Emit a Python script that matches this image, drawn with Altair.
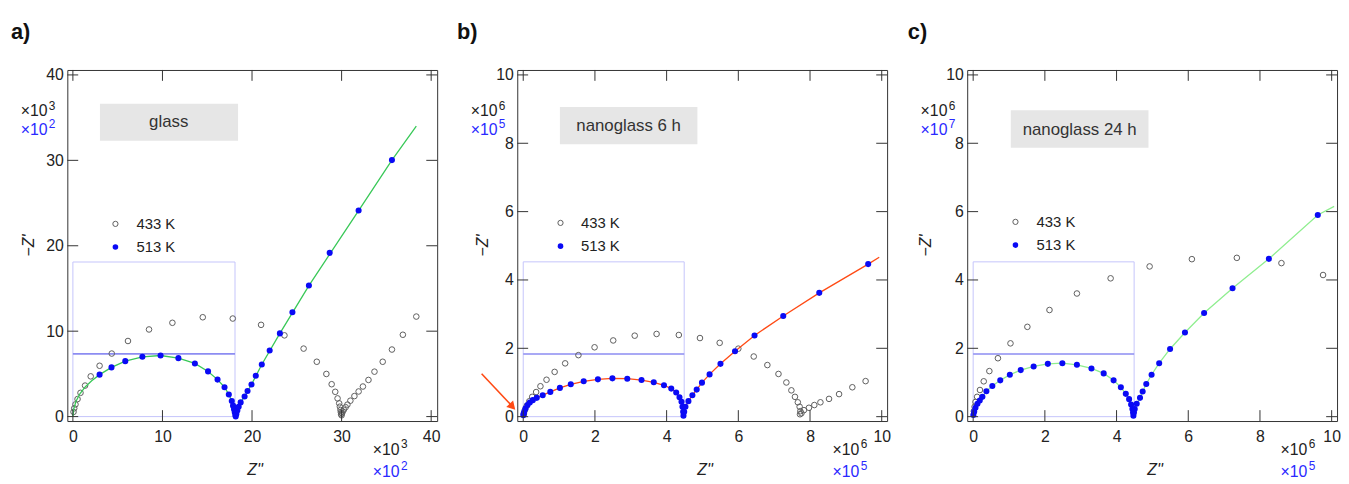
import altair as alt
import pandas as pd

FONT = "Liberation Sans"
W, H = 374, 355
TICK = 11

# ---------------- panel a) glass ----------------
a_xdom = [-0.62, 40.67]
a_ydom = [-0.52, 40.58]
a_xticks = [0, 10, 20, 30, 40]
a_yticks = [0, 10, 20, 30, 40]
a_gray_x = [0.07, 0.15, 0.29, 0.52, 0.85, 1.36, 1.99, 2.98, 4.34, 6.15, 8.5, 11.11, 14.5, 17.85, 21.01,
            23.62, 25.76, 27.23, 28.3, 28.89, 29.29, 29.55, 29.73, 29.81, 29.88, 29.92, 29.95, 30.0, 30.05,
            30.12, 30.25, 30.45, 30.65, 30.98, 31.43, 31.9, 32.38, 33.0, 33.67, 34.59, 35.62, 36.84, 38.34]
a_gray_y = [0.55, 0.97, 1.43, 2.05, 2.78, 3.63, 4.71, 5.95, 7.38, 8.85, 10.2, 10.98, 11.63, 11.48, 10.74,
            9.51, 7.96, 6.42, 4.99, 3.79, 2.9, 2.13, 1.55, 1.16, 0.77, 0.5, 0.27, 0.15, 0.4,
            0.6, 0.8, 1.1, 1.4, 1.86, 2.4, 2.94, 3.52, 4.29, 5.26, 6.42, 7.85, 9.58, 11.71]
a_blue_x = [2.98, 4.31, 5.85, 7.76, 9.79, 11.78, 13.62, 15.09, 16.15, 16.93, 17.41, 17.74, 17.88, 17.99,
            18.07, 18.14, 18.18, 18.25, 18.36, 18.51, 18.73, 19.17, 19.5, 19.94, 20.42, 21.09, 21.97,
            23.11, 24.51, 26.35, 28.67, 31.9, 35.62]
a_blue_y = [4.91, 5.76, 6.49, 7.0, 7.15, 6.84, 6.22, 5.29, 4.33, 3.44, 2.59, 1.82, 1.28, 0.85,
            0.5, 0.19, 0.02, 0.31, 0.7, 1.16, 1.66, 2.36, 3.0, 3.75, 4.79, 6.1, 7.73,
            9.74, 12.21, 15.34, 19.17, 24.12, 30.03]
a_fit_x = [0, 0.1, 0.35, 0.8, 1.4, 2.1, 2.98, 4.31, 5.85, 7.76, 9.79, 11.78, 13.62, 15.09, 16.15,
           16.93, 17.41, 17.74, 17.99, 18.18, 18.36, 18.73, 19.17, 19.94, 21.09, 23.11, 26.35, 31.9,
           35.62, 38.34]
a_fit_y = [0, 0.9, 1.8, 2.7, 3.5, 4.2, 4.91, 5.76, 6.49, 7.0, 7.15, 6.84, 6.22, 5.29, 4.33,
           3.44, 2.59, 1.82, 0.85, 0.02, 0.7, 1.66, 2.36, 3.75, 6.1, 9.74, 15.34, 24.12,
           30.03, 34.0]
a_box = [3.02, 18.44, 36.64, 32.3]
a_box_text = [10.7, 34.45]
a_inset = [0, 18.1, 0, 18.1]
a_hline = 7.34
a_legend = [4.75, 22.56, 19.86, 7.1]

# ---------------- panel b) nanoglass 6 h ----------------
bc_xdom = [-0.166, 10.15]
bc_ydom = [-0.128, 10.145]
bc_xticks = [0, 2, 4, 6, 8, 10]
bc_yticks = [0, 2, 4, 6, 8, 10]
b_gray_x = [0.02, 0.05, 0.1, 0.17, 0.25, 0.36, 0.48, 0.65, 0.876, 1.17, 1.54, 1.99, 2.51, 3.11, 3.72,
            4.34, 4.93, 5.48, 6.0, 6.43, 6.81, 7.12, 7.34, 7.48, 7.58, 7.66, 7.71, 7.73, 7.72, 7.76,
            7.83, 7.97, 8.12, 8.29, 8.53, 8.81, 9.18, 9.55]
b_gray_y = [0.08, 0.2, 0.32, 0.45, 0.58, 0.72, 0.89, 1.08, 1.31, 1.56, 1.80, 2.03, 2.23, 2.37, 2.42,
            2.39, 2.30, 2.16, 1.99, 1.76, 1.51, 1.25, 1.0, 0.77, 0.58, 0.42, 0.29, 0.16, 0.07, 0.1,
            0.19, 0.26, 0.34, 0.42, 0.52, 0.66, 0.86, 1.04]
b_blue_x = [0.004, 0.012, 0.028, 0.065, 0.12, 0.184, 0.267, 0.378, 0.544, 0.756, 1.023, 1.327, 1.687,
            2.083, 2.488, 2.903, 3.3, 3.641, 3.926, 4.129, 4.267, 4.359, 4.415, 4.442, 4.461, 4.47,
            4.49, 4.525, 4.608, 4.719, 4.839, 4.986, 5.198, 5.502, 5.908, 6.452, 7.253, 8.258, 9.622]
b_blue_y = [0.04, 0.09, 0.145, 0.242, 0.338, 0.415, 0.483, 0.551, 0.628, 0.725, 0.841, 0.947, 1.034,
            1.092, 1.121, 1.111, 1.072, 1.005, 0.918, 0.821, 0.705, 0.57, 0.435, 0.29, 0.145, 0.03,
            0.145, 0.29, 0.454, 0.628, 0.792, 0.995, 1.237, 1.546, 1.913, 2.377, 2.947, 3.623, 4.464]
b_fit_x = [0.0] + b_blue_x + [9.93]
b_fit_y = [0.0] + b_blue_y + [4.667]
b_box = [1.023, 4.858, 9.06, 7.97]
b_box_text = [2.94, 8.5]
bc_inset = [0, 4.49, 0, 4.53]
bc_hline = 1.836
b_legend = [1.04, 5.67, 4.99, 1.61]
b_arrow = [-1.16, 1.255, -0.33, 0.33]
b_arrow_head = [-0.3, 0.29]

# ---------------- panel c) nanoglass 24 h ----------------
c_gray_x = [0.02, 0.04, 0.065, 0.11, 0.19, 0.295, 0.452, 0.691, 1.041, 1.512, 2.129, 2.894, 3.834,
            4.922, 6.101, 7.355, 8.599, 9.76]
c_gray_y = [0.16, 0.29, 0.43, 0.58, 0.78, 1.034, 1.333, 1.71, 2.145, 2.628, 3.121, 3.604, 4.048,
            4.396, 4.609, 4.647, 4.493, 4.145]
c_blue_x = [0.006, 0.028, 0.065, 0.12, 0.184, 0.258, 0.369, 0.535, 0.756, 1.023, 1.327, 1.687, 2.083,
            2.488, 2.894, 3.3, 3.641, 3.917, 4.12, 4.258, 4.35, 4.406, 4.442, 4.46, 4.47, 4.485, 4.507,
            4.562, 4.654, 4.728, 4.829, 4.977, 5.189, 5.493, 5.908, 6.442, 7.235, 8.249, 9.613]
c_blue_y = [0.05, 0.145, 0.261, 0.377, 0.473, 0.58, 0.744, 0.899, 1.063, 1.227, 1.362, 1.469, 1.546,
            1.565, 1.517, 1.411, 1.266, 1.063, 0.86, 0.667, 0.512, 0.357, 0.222, 0.12, 0.029, 0.12, 0.222,
            0.377, 0.551, 0.734, 0.957, 1.227, 1.565, 1.981, 2.464, 3.034, 3.758, 4.618, 5.903]
c_fit_x = [0.0] + c_blue_x + [10.07]
c_fit_y = [0.0] + c_blue_y + [6.155]
c_box = [1.05, 4.89, 8.97, 7.87]
c_box_text = [2.97, 8.39]
c_legend = [1.18, 5.70, 5.02, 1.77]

BLUE_TXT = "#2a2aff"


def ptext(txt, x, y, size=16, color="#222222", align="left", baseline="alphabetic",
          angle=0, weight="normal", style="normal"):
    df = pd.DataFrame({"t": [txt]})
    return alt.Chart(df).mark_text(font=FONT, fontSize=size, color=color, align=align,
                                   baseline=baseline, angle=angle, fontWeight=weight,
                                   fontStyle=style).encode(x=alt.value(x), y=alt.value(y), text="t:N")


def mult(exp, right, base_y, color):
    return [ptext("×10", right - 8, base_y, size=16, align="right", color=color),
            ptext(exp, right, base_y - 7, size=12, align="right", color=color)]


def panel(xdom, ydom, xticks, yticks, gx, gy, bx, by, fx, fy, fit_color, box, box_text, label,
          inset, hline, legend, mult_top, mult_bot, mult_right, ytitle_dx, plabel, plabel_dx,
          arrow=None, head=None):
    xs = alt.Scale(domain=xdom, nice=False, zero=False)
    ys = alt.Scale(domain=ydom, nice=False, zero=False)
    xaxis = alt.Axis(values=xticks, ticks=False, domain=False, grid=False, labelFont=FONT,
                     labelFontSize=16, labelColor="#222222", labelPadding=8, title=None,
                     labelFlush=False, labelOverlap=False, format="d")
    yaxis = alt.Axis(values=yticks, ticks=False, domain=False, grid=False, labelFont=FONT,
                     labelFontSize=16, labelColor="#222222", labelPadding=4, title=None,
                     labelFlush=False, labelOverlap=False, format="d")

    def X(f):
        return alt.X(f, type="quantitative", scale=xs, axis=xaxis)

    def Y(f):
        return alt.Y(f, type="quantitative", scale=ys, axis=yaxis)

    layers = []
    bdf = pd.DataFrame({"x1": [box[0]], "x2": [box[1]], "y1": [box[2]], "y2": [box[3]]})
    layers.append(alt.Chart(bdf).mark_rect(color="#e6e6e6").encode(
        x=X("x1"), x2="x2", y=Y("y1"), y2="y2"))
    tdf = pd.DataFrame({"x": [box_text[0]], "y": [box_text[1]], "t": [label]})
    layers.append(alt.Chart(tdf).mark_text(font=FONT, fontSize=17, color="#333333",
                                           align="center", baseline="middle").encode(
        x=X("x"), y=Y("y"), text="t:N"))
    idf = pd.DataFrame({"x1": [inset[0]], "x2": [inset[1]], "y1": [inset[2]], "y2": [inset[3]]})
    layers.append(alt.Chart(idf).mark_rect(fillOpacity=0, stroke="#c4c4fb", strokeWidth=1).encode(
        x=X("x1"), x2="x2", y=Y("y1"), y2="y2"))
    hdf = pd.DataFrame({"x1": [inset[0]], "x2": [inset[1]], "y": [hline]})
    layers.append(alt.Chart(hdf).mark_rule(color="#8c8cf2", strokeWidth=1.6).encode(
        x=X("x1"), x2="x2", y=Y("y")))
    gdf = pd.DataFrame({"x": gx, "y": gy})
    layers.append(alt.Chart(gdf).mark_point(shape="circle", filled=False, color="#5e5e5e",
                                            size=32, strokeWidth=1, opacity=1).encode(
        x=X("x"), y=Y("y")))
    fdf = pd.DataFrame({"x": fx, "y": fy, "i": list(range(len(fx)))})
    layers.append(alt.Chart(fdf).mark_line(color=fit_color, strokeWidth=1.3).encode(
        x=X("x"), y=Y("y"), order="i:Q"))
    bdf2 = pd.DataFrame({"x": bx, "y": by})
    layers.append(alt.Chart(bdf2).mark_circle(color="#0a0af5", size=38, opacity=1).encode(
        x=X("x"), y=Y("y")))
    # legend
    l1 = pd.DataFrame({"x": [legend[0]], "y": [legend[1]]})
    l2 = pd.DataFrame({"x": [legend[0]], "y": [legend[2]]})
    layers.append(alt.Chart(l1).mark_point(shape="circle", filled=False, color="#5e5e5e",
                                           size=28, strokeWidth=1, opacity=1).encode(
        x=X("x"), y=Y("y")))
    layers.append(alt.Chart(l2).mark_circle(color="#0a0af5", size=32, opacity=1).encode(
        x=X("x"), y=Y("y")))
    ltd = pd.DataFrame({"x": [legend[3], legend[3]], "y": [legend[1], legend[2]],
                        "t": ["433 K", "513 K"]})
    layers.append(alt.Chart(ltd).mark_text(font=FONT, fontSize=15, color="#222222", align="left",
                                           baseline="middle").encode(
        x=X("x"), y=Y("y"), text="t:N"))
    # arrow
    if arrow is not None:
        adf = pd.DataFrame({"x1": [arrow[0]], "y1": [arrow[1]], "x2": [arrow[2]], "y2": [arrow[3]]})
        layers.append(alt.Chart(adf).mark_rule(color="#ff4a14", strokeWidth=1.6).encode(
            x=X("x1"), y=Y("y1"), x2="x2", y2="y2"))
        hd = pd.DataFrame({"x": [head[0]], "y": [head[1]]})
        layers.append(alt.Chart(hd).mark_point(shape="triangle-up", filled=True, color="#ff4a14",
                                               size=90, angle=137, opacity=1).encode(
            x=X("x"), y=Y("y")))
    # inward ticks on all four sides
    xt = pd.DataFrame({"v": xticks})
    yt = pd.DataFrame({"v": yticks})
    layers.append(alt.Chart(xt).mark_rule(color="#333333", strokeWidth=1).encode(
        x=X("v"), y=alt.value(H), y2=alt.value(H - TICK)))
    layers.append(alt.Chart(xt).mark_rule(color="#333333", strokeWidth=1).encode(
        x=X("v"), y=alt.value(0), y2=alt.value(TICK)))
    layers.append(alt.Chart(yt).mark_rule(color="#333333", strokeWidth=1).encode(
        y=Y("v"), x=alt.value(0), x2=alt.value(TICK)))
    layers.append(alt.Chart(yt).mark_rule(color="#333333", strokeWidth=1).encode(
        y=Y("v"), x=alt.value(W), x2=alt.value(W - TICK)))
    # titles, multipliers, panel label
    layers.append(ptext("−Z'", ytitle_dx, H / 2, size=16, align="center", baseline="middle",
                        angle=270, style="italic"))
    layers.append(ptext("Z''", W / 2 + 3, H + 55, size=16, align="center", style="italic"))
    layers += mult(mult_top[0], -12, 47, "#222222")
    layers += mult(mult_top[1], -12, 66, BLUE_TXT)
    layers += mult(mult_bot[0], W - mult_right, H + 34, "#222222")
    layers += mult(mult_bot[1], W - mult_right, H + 57, BLUE_TXT)
    layers.append(ptext(plabel, plabel_dx, -31, size=22, weight="bold", color="#111111"))
    return alt.layer(*layers).properties(width=W, height=H)


pa = panel(a_xdom, a_ydom, a_xticks, a_yticks, a_gray_x, a_gray_y, a_blue_x, a_blue_y,
           a_fit_x, a_fit_y, "#38c857", a_box, a_box_text, "glass", a_inset, a_hline, a_legend,
           ["3", "2"], ["3", "2"], 30, -39, "a)", -57)
pb = panel(bc_xdom, bc_ydom, bc_xticks, bc_yticks, b_gray_x, b_gray_y, b_blue_x, b_blue_y,
           b_fit_x, b_fit_y, "#ff4a14", b_box, b_box_text, "nanoglass 6 h", bc_inset, bc_hline,
           b_legend, ["6", "5"], ["6", "5"], 20, -35, "b)", -61,
           arrow=b_arrow, head=b_arrow_head)
pc = panel(bc_xdom, bc_ydom, bc_xticks, bc_yticks, c_gray_x, c_gray_y, c_blue_x, c_blue_y,
           c_fit_x, c_fit_y, "#8fee8f", c_box, c_box_text, "nanoglass 24 h", bc_inset, bc_hline,
           c_legend, ["6", "7"], ["6", "5"], 22, -42, "c)", -60)

chart = alt.hconcat(pa, pb, pc, spacing=81, bounds="flush").properties(
    padding={"left": 2, "top": 10, "right": 0, "bottom": 0}
).configure_view(stroke="#333333", strokeWidth=1)

chart.save("out.html", embed_options={"renderer": "svg", "actions": False})
